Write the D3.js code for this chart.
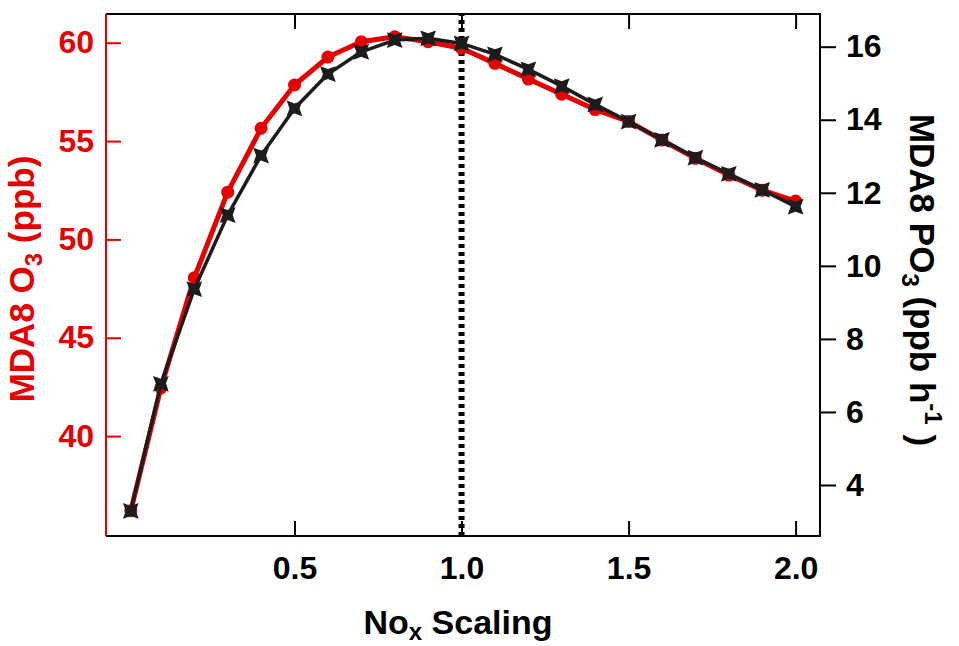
<!DOCTYPE html>
<html>
<head>
<meta charset="utf-8">
<script src="https://cdn.jsdelivr.net/npm/d3@7"></script>
<style>
  body { margin: 0; background: #fff; }
  text { font-family: "Liberation Sans", Arial, sans-serif; font-weight: bold; }
</style>
</head>
<body>
<div id="chart"></div>
<script>
// Data
const noxScaling = [0.01, 0.1, 0.2, 0.3, 0.4, 0.5, 0.6, 0.7, 0.8, 0.9, 1.0,
                    1.1, 1.2, 1.3, 1.4, 1.5, 1.6, 1.7, 1.8, 1.9, 2.0];
const o3 = [36.2, 42.45, 48.05, 52.4, 55.65, 57.85, 59.27, 60.05, 60.3, 60.05, 59.72,
            58.95, 58.15, 57.38, 56.6, 56.0, 55.05, 54.12, 53.27, 52.5, 51.95];
const po3 = [3.29, 6.77, 9.36, 11.39, 13.02, 14.31, 15.25, 15.86, 16.18, 16.23, 16.09,
             15.79, 15.38, 14.92, 14.42, 13.95, 13.45, 12.96, 12.52, 12.08, 11.62];
const xTicks = [0.5, 1.0, 1.5, 2.0];
const leftTicks = [40, 45, 50, 55, 60];
const rightTicks = [4, 6, 8, 10, 12, 14, 16];
const refLine = 1.0;

const red = "#e60000", dark = "#1c1c1c";

// Set up margins and dimensions
const margin = { top: 14, right: 139, bottom: 110, left: 106 },
      width = 959 - margin.left - margin.right,
      height = 646 - margin.top - margin.bottom;

const svg = d3.select("#chart")
    .append("svg")
    .attr("width", width + margin.left + margin.right)
    .attr("height", height + margin.top + margin.bottom)
    .append("g")
    .attr("transform", `translate(${margin.left},${margin.top})`);

// Scales
const x = d3.scaleLinear().domain([-0.0642, 2.073]).range([0, width]);
const yL = d3.scaleLinear().domain([34.92, 61.46]).range([height, 0]);
const yR = d3.scaleLinear().domain([2.604, 16.895]).range([height, 0]);

// Axes
const xAxis = svg.append("g")
    .attr("transform", `translate(0,${height})`)
    .call(d3.axisBottom(x).tickValues(xTicks).tickFormat(d3.format(".1f"))
        .tickSize(-15).tickPadding(20));
xAxis.selectAll("text").attr("font-size", 32).attr("fill", "#000");

const xTop = svg.append("g")
    .call(d3.axisTop(x).tickValues(xTicks).tickFormat("").tickSize(-15));

const leftAxis = svg.append("g")
    .call(d3.axisLeft(yL).tickValues(leftTicks).tickSize(-15).tickPadding(12));
leftAxis.selectAll("line").attr("stroke", red);
leftAxis.selectAll("text").attr("font-size", 32).attr("fill", red);

const rightAxis = svg.append("g")
    .attr("transform", `translate(${width},0)`)
    .call(d3.axisRight(yR).tickValues(rightTicks).tickSize(16).tickPadding(10));
rightAxis.selectAll("text").attr("font-size", 32).attr("fill", "#000");

[xAxis, xTop, leftAxis, rightAxis].forEach(a => {
    a.select(".domain").remove();
    a.selectAll("line").attr("stroke-width", 2);
});

// Frame
svg.append("path")
    .attr("d", `M0,0H${width}V${height}H0`)
    .attr("fill", "none").attr("stroke", "#000").attr("stroke-width", 2);
svg.append("line")
    .attr("x1", 0).attr("x2", 0).attr("y1", 0).attr("y2", height)
    .attr("stroke", red).attr("stroke-width", 2);

// Reference line at NOx scaling = 1
svg.append("line")
    .attr("x1", x(refLine)).attr("x2", x(refLine))
    .attr("y1", height).attr("y2", 0)
    .attr("stroke", "#000").attr("stroke-width", 6)
    .attr("stroke-dasharray", "4,4");

// O3 series (red, circles)
const o3Data = noxScaling.map((d, i) => ({ x: d, y: o3[i] }));
svg.append("path")
    .datum(o3Data)
    .attr("fill", "none").attr("stroke", red).attr("stroke-width", 5)
    .attr("stroke-linejoin", "round")
    .attr("d", d3.line().x(d => x(d.x)).y(d => yL(d.y)));
svg.append("g").selectAll("circle")
    .data(o3Data)
    .join("circle")
    .attr("cx", d => x(d.x)).attr("cy", d => yL(d.y))
    .attr("r", 6.5).attr("fill", red);

// PO3 series (black, 4-point stars)
const po3Data = noxScaling.map((d, i) => ({ x: d, y: po3[i] }));
svg.append("path")
    .datum(po3Data)
    .attr("fill", "none").attr("stroke", dark).attr("stroke-width", 3.5)
    .attr("stroke-linejoin", "round")
    .attr("d", d3.line().x(d => x(d.x)).y(d => yR(d.y)));

const star4 = {
    draw(ctx, size) {
        const R = Math.sqrt(size) * 0.75, r = R * 0.45;
        for (let k = 0; k < 8; k++) {
            const a = Math.PI / 4 + k * Math.PI / 4;
            const rad = k % 2 === 0 ? R : r;
            const px = rad * Math.cos(a), py = rad * Math.sin(a);
            if (k === 0) ctx.moveTo(px, py); else ctx.lineTo(px, py);
        }
        ctx.closePath();
    }
};
svg.append("g").selectAll("path")
    .data(po3Data)
    .join("path")
    .attr("transform", d => `translate(${x(d.x)},${yR(d.y)})`)
    .attr("d", d3.symbol().type(star4).size(220))
    .attr("fill", dark);

// Axis titles
const xLabel = svg.append("text")
    .attr("x", 458 - margin.left).attr("y", 634 - margin.top)
    .attr("text-anchor", "middle").attr("font-size", 34).attr("fill", "#000");
xLabel.append("tspan").text("No");
xLabel.append("tspan").attr("font-size", 24).attr("dy", 6).text("x");
xLabel.append("tspan").attr("dy", -6).text(" Scaling");

const yLabelL = svg.append("text")
    .attr("transform", `translate(${34 - margin.left},${279 - margin.top}) rotate(-90)`)
    .attr("text-anchor", "middle").attr("font-size", 35).attr("fill", red);
yLabelL.append("tspan").text("MDA8 O");
yLabelL.append("tspan").attr("font-size", 24).attr("dy", 8).text("3");
yLabelL.append("tspan").attr("dy", -8).text(" (ppb)");

const yLabelR = svg.append("text")
    .attr("transform", `translate(${910 - margin.left},${280 - margin.top}) rotate(90)`)
    .attr("text-anchor", "middle").attr("font-size", 35).attr("fill", "#000");
yLabelR.append("tspan").text("MDA8 PO");
yLabelR.append("tspan").attr("font-size", 24).attr("dy", 8).text("3");
yLabelR.append("tspan").attr("dy", -8).text(" (ppb h");
yLabelR.append("tspan").attr("font-size", 24).attr("dy", -15).text("-1");
yLabelR.append("tspan").attr("dy", 15).text(" )");
</script>
</body>
</html>
